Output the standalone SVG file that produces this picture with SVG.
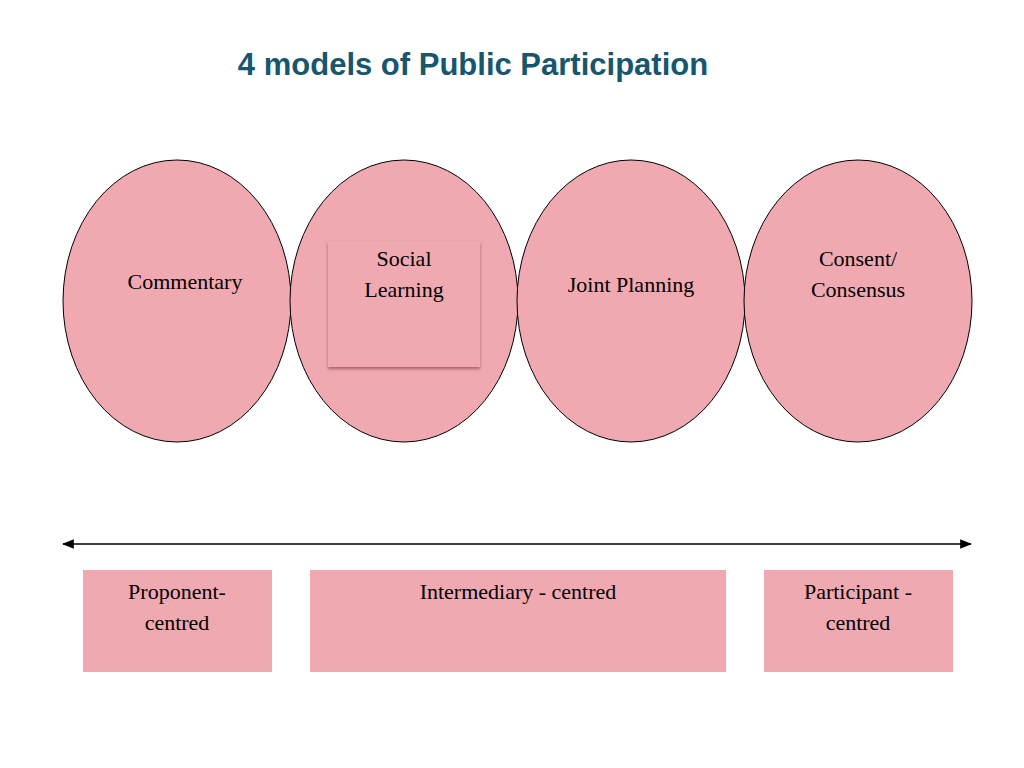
<svg xmlns="http://www.w3.org/2000/svg" width="1024" height="768" viewBox="0 0 1024 768">
<defs>
<style>
.e{fill:#f0a9b1;stroke:#000;stroke-width:1}
.r{fill:#f0a9b1}
.t{font-family:"Liberation Serif",serif;font-size:22px;fill:#000;text-anchor:middle}
</style>
<marker id="a" viewBox="0 0 10 10" refX="9" refY="5" markerWidth="8" markerHeight="8" orient="auto-start-reverse"><path d="M0,1 L10,5 L0,9 z" fill="#000"/></marker>
<filter id="s" x="-10%" y="-10%" width="130%" height="130%"><feDropShadow dx="0" dy="2" stdDeviation="1.5" flood-color="#7a4a50" flood-opacity="0.7"/></filter>
</defs>
<rect width="1024" height="768" fill="#fff"/>
<text x="473" y="75" font-family="Liberation Sans,Arial,sans-serif" font-weight="bold" font-size="31" fill="#17566e" text-anchor="middle">4 models of Public Participation</text>
<g id="n1"><ellipse class="e" cx="177" cy="301" rx="114" ry="141"/><text class="t" x="185" y="289" font-size="19">Commentary</text></g>
<g id="n2"><ellipse class="e" cx="404" cy="301" rx="114" ry="141"/><rect class="r" x="328" y="241" width="152" height="126" filter="url(#s)"/><text class="t" x="404" y="266">Social</text><text class="t" x="404" y="297">Learning</text></g>
<g id="n3"><ellipse class="e" cx="631" cy="301" rx="114" ry="141"/><text class="t" x="631" y="292">Joint Planning</text></g>
<g id="n4"><ellipse class="e" cx="858" cy="301" rx="114" ry="141"/><text class="t" x="858" y="266">Consent/</text><text class="t" x="858" y="297">Consensus</text></g>
<g id="connectors"><line x1="63" y1="544" x2="971" y2="544" stroke="#000" stroke-width="1.5" marker-start="url(#a)" marker-end="url(#a)"/></g>
<g id="b1"><rect class="r" x="83" y="570" width="189" height="102"/><text class="t" x="177" y="599">Proponent-</text><text class="t" x="177" y="630">centred</text></g>
<g id="b2"><rect class="r" x="310" y="570" width="416" height="102"/><text class="t" x="518" y="599">Intermediary - centred</text></g>
<g id="b3"><rect class="r" x="764" y="570" width="189" height="102"/><text class="t" x="858" y="599">Participant -</text><text class="t" x="858" y="630">centred</text></g>
</svg>
